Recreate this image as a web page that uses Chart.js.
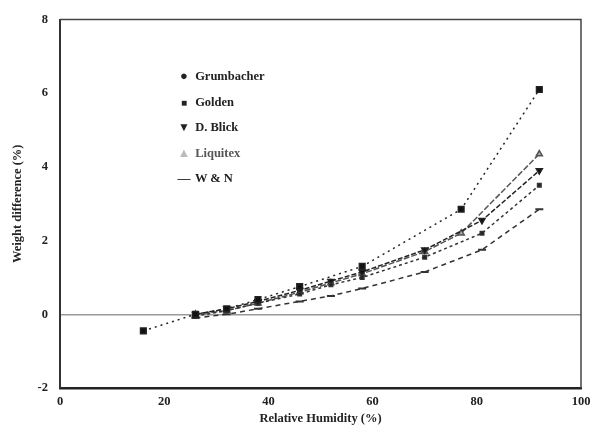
<!DOCTYPE html>
<html>
<head>
<meta charset="utf-8">
<script src="https://cdn.jsdelivr.net/npm/chart.js@4.4.1/dist/chart.umd.min.js"></script>
<style>
  body { margin: 0; background: #fff; }
  #wrap { position: relative; width: 593px; height: 433px; }
  #legend { position: absolute; left: 176px; top: 66px; font: bold 12.5px "Liberation Serif", serif; color: #222; }
  #legend div { height: 25.5px; line-height: 20px; white-space: nowrap; }
  #legend span.m { display: inline-block; width: 16px; text-align: center; font-size: 13px; }
</style>
</head>
<body>
<div id="wrap">
  <canvas id="chart" width="593" height="433"></canvas>
  <div id="legend">
    <div><span class="m">&#9679;</span> Grumbacher</div>
    <div><span class="m" style="font-size:10px">&#9632;</span> Golden</div>
    <div><span class="m" style="font-size:12px">&#9660;</span> D. Blick</div>
    <div style="color:#555"><span class="m" style="color:#bbb">&#9650;</span> Liquitex</div>
    <div><span class="m">&#8212;</span> W &amp; N</div>
  </div>
</div>
<script>
// relative humidity (%) vs weight difference (%)
let grumX = [16, 26, 32, 38, 46, 58, 77, 92] ;
let grumY = [-0.45, 0, 0.15, 0.4, 0.75, 1.3, 2.85, 6.1] ;
let goldenX = [26, 32, 38, 46, 52, 58, 70, 81, 92] ;
let goldenY = [-0.05, 0.1, 0.3, 0.55, 0.8, 1.0, 1.55, 2.2, 3.5] ;
let blickX = [26, 32, 38, 46, 52, 58, 70, 81, 92] ;
let blickY = [0, 0.15, 0.35, 0.65, 0.9, 1.15, 1.75, 2.55, 3.9] ;
let liqX = [26, 32, 38, 46, 52, 58, 70, 77, 92] ;
let liqY = [0, 0.1, 0.3, 0.6, 0.85, 1.1, 1.7, 2.2, 4.35] ;
let wnX = [26, 32, 38, 46, 52, 58, 70, 81, 92] ;
let wnY = [-0.1, 0, 0.15, 0.35, 0.5, 0.7, 1.15, 1.75, 2.85] ;
let xTicks = [0, 20, 40, 60, 80, 100] ;
let yTicks = [-2, 0, 2, 4, 6, 8] ;

function pts (xs, ys) {
    return xs.map((x,i)=>{ return {x: x, y: ys[i]} ; }) ;
}

let serif = '"Liberation Serif", "Times New Roman", serif' ;

// top and right edge of the plot box
const boxPlugin = {
    id: 'box',
    afterDraw (chart) {
        let a = chart.chartArea ;
        let c = chart.ctx ;
        c.save() ;
        c.strokeStyle = '#444' ;
        c.lineWidth = 1.5 ;
        c.beginPath() ;
        c.moveTo(a.left, a.top) ;
        c.lineTo(a.right, a.top) ;
        c.lineTo(a.right, a.bottom) ;
        c.stroke() ;
        c.restore() ;
    }
} ;

let config = {
    type: 'scatter',
    data: {
        datasets: [
            { label: 'Grumbacher', data: pts(grumX, grumY), showLine: true,
              borderColor: '#222', backgroundColor: '#111', borderWidth: 1.5, borderDash: [2, 4],
              pointStyle: 'rect', pointRadius: 4 },
            { label: 'Golden', data: pts(goldenX, goldenY), showLine: true,
              borderColor: '#333', backgroundColor: '#222', borderWidth: 1.5, borderDash: [3, 3],
              pointStyle: 'rect', pointRadius: 2.5 },
            { label: 'D. Blick', data: pts(blickX, blickY), showLine: true,
              borderColor: '#222', backgroundColor: '#111', borderWidth: 1.5, borderDash: [5, 2],
              pointStyle: 'triangle', rotation: 180, pointRadius: 3.5 },
            { label: 'Liquitex', data: pts(liqX, liqY), showLine: true,
              borderColor: '#555', backgroundColor: '#aaa', borderWidth: 1.5, borderDash: [6, 2],
              pointStyle: 'triangle', pointRadius: 3.5 },
            { label: 'W & N', data: pts(wnX, wnY), showLine: true,
              borderColor: '#333', backgroundColor: '#222', borderWidth: 1.5, borderDash: [5, 4],
              pointStyle: 'line', pointRadius: 4, pointBorderWidth: 2 }
        ]
    },
    options: {
        responsive: false,
        animation: false,
        layout: { padding: { top: 17, right: 12, left: 10, bottom: 7 } },
        plugins: { legend: { display: false }, tooltip: { enabled: false } },
        scales: {
            x: {
                type: 'linear', min: 0, max: 100,
                afterBuildTicks: (s) => { s.ticks = xTicks.map(v => ({value: v})) ; },
                afterFit: (s) => { s.height = 38 ; s.paddingRight = 0 ; s.paddingLeft = 0 ; },
                grid: { display: false, drawTicks: false },
                border: { color: '#222', width: 2.5 },
                ticks: { color: '#222', font: { family: serif, size: 12.5, weight: 'bold' }, padding: 6 },
                title: { display: true, text: 'Relative Humidity (%)', color: '#222', padding: 0,
                         font: { family: serif, size: 12.5, weight: 'bold' } }
            },
            y: {
                type: 'linear', min: -2, max: 8,
                afterBuildTicks: (s) => { s.ticks = yTicks.map(v => ({value: v})) ; },
                afterFit: (s) => { s.width = 50 ; },
                grid: {
                    drawTicks: false,
                    color: (ctx) => ctx.tick && ctx.tick.value === 0 ? '#999' : 'rgba(0,0,0,0)',
                    lineWidth: 1.5
                },
                border: { color: '#333', width: 2 },
                ticks: { color: '#222', font: { family: serif, size: 12.5, weight: 'bold' }, padding: 12 },
                title: { display: true, text: 'Weight difference (%)', color: '#222', padding: 0,
                         font: { family: serif, size: 12.5, weight: 'bold' } }
            }
        }
    },
    plugins: [boxPlugin]
} ;

let chart = new Chart(document.getElementById('chart').getContext('2d'), config) ;
</script>
</body>
</html>
